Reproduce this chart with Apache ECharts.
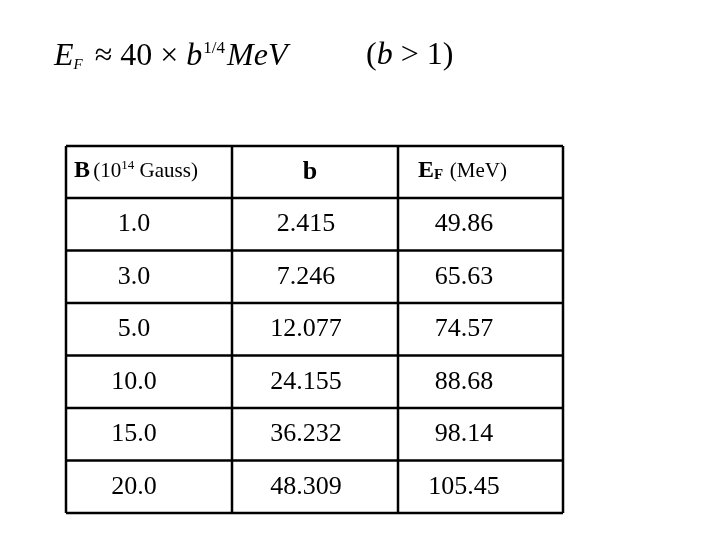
<!DOCTYPE html>
<html>
<head>
<meta charset="utf-8">
<script src="https://cdn.jsdelivr.net/npm/echarts@6/dist/echarts.min.js"></script>
<style>html,body{margin:0;padding:0;background:#fff}#main{width:720px;height:540px}</style>
</head>
<body>
<div id="main"></div>
<script>
// table data
var fieldB = ['1.0', '3.0', '5.0', '10.0', '15.0', '20.0'];
var smallB = ['2.415', '7.246', '12.077', '24.155', '36.232', '48.309'];
var energyF = ['49.86', '65.63', '74.57', '88.68', '98.14', '105.45'];

var chart = echarts.init(document.getElementById('main'));
var serif = '"Liberation Serif", "DejaVu Serif", serif';
var colX = [66, 232, 398, 563];
var colC = [134, 306, 464];
var top0 = 146, headH = 52, rowH = 52.5;
var els = [];

// formula
els.push({type: 'text', left: 54, top: 40, style: {
    rich: {
        i: {font: 'italic 32px ' + serif, fill: '#000'},
        n: {font: '32px ' + serif, fill: '#000'},
        s: {font: 'italic 15px ' + serif, fill: '#000', verticalAlign: 'bottom', padding: [16, 4, 0, 0]},
        p: {font: '17px ' + serif, fill: '#000', verticalAlign: 'top', padding: [0, 2, 16, 1]}
    },
    text: '{i|E}{s|F}{n| ≈ 40 × }{i|b}{p|1/4}{i|MeV}'
}});
els.push({type: 'text', left: 366, top: 40, style: {
    rich: {i: {font: 'italic 32px ' + serif}, n: {font: '32px ' + serif}},
    text: '{n|(}{i|b}{n| > 1)}'
}});

// header
els.push({type: 'text', left: 74, top: 159, style: {
    rich: {
        b: {font: 'bold 24px ' + serif},
        n: {font: '21px ' + serif},
        p: {font: '13px ' + serif, verticalAlign: 'top', padding: [0, 0, 8, 0]}
    },
    text: '{b|B} {n|(10}{p|14}{n| Gauss)}'
}});
els.push({type: 'text', x: colC[1] + 4, y: top0 + headH / 2, style: {
    text: 'b', font: 'bold 26px ' + serif, align: 'center', verticalAlign: 'middle'
}});
els.push({type: 'text', left: 418, top: 159, style: {
    rich: {
        b: {font: 'bold 24px ' + serif},
        s: {font: 'bold 15px ' + serif, verticalAlign: 'bottom', padding: [8, 0, 0, 0]},
        n: {font: '21px ' + serif}
    },
    text: '{b|E}{s|F}  {n|(MeV)}'
}});

// body rows
var cols = [fieldB, smallB, energyF];
var nRows = fieldB.length;
var bottom = top0 + headH + rowH * nRows;
cols.forEach(function (arr, c) {
    arr.forEach(function (v, r) {
        els.push({type: 'text', x: colC[c], y: top0 + headH + rowH * r + rowH / 2, style: {
            text: v, font: '26px ' + serif, align: 'center', verticalAlign: 'middle', fill: '#000'
        }});
    });
});

// grid lines
var lw = 2.5;
colX.forEach(function (x) {
    els.push({type: 'line', shape: {x1: x, y1: top0, x2: x, y2: bottom}, style: {stroke: '#000', lineWidth: lw}});
});
els.push({type: 'line', shape: {x1: colX[0], y1: top0, x2: colX[3], y2: top0}, style: {stroke: '#000', lineWidth: lw}});
for (var r = 0; r <= nRows; r++) {
    var y = top0 + headH + rowH * r;
    els.push({type: 'line', shape: {x1: colX[0], y1: y, x2: colX[3], y2: y}, style: {stroke: '#000', lineWidth: lw}});
}

chart.setOption({backgroundColor: '#fff', graphic: {elements: els}});
</script>
</body>
</html>
